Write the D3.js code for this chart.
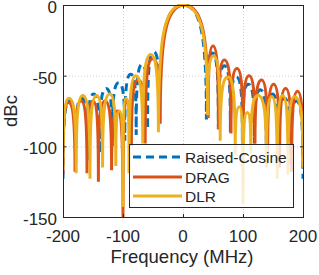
<!DOCTYPE html>
<html>
<head>
<meta charset="utf-8">
<script src="https://cdn.jsdelivr.net/npm/d3@7"></script>
<style>
  html, body { margin: 0; padding: 0; background: #fff; }
  svg { display: block; }
  text { font-family: "Liberation Sans", Arial, Helvetica, sans-serif; fill: #262626; }
</style>
</head>
<body>
<svg id="chart" width="319" height="275"></svg>
<script>
// ---- data ----
const seriesNames = ["Raised-Cosine", "DRAG", "DLR"];
const seriesColors = ["#0072BD", "#D95319", "#EDB120"];
const xTicks = [-200, -100, 0, 100, 200];
const yTicks = [0, -50, -100, -150];

// alternating null / peak points (edge, peak, null, peak, ..., edge)
const rcFreq = [-200, -189, -179, -169, -159, -149, -139, -128, -118, -107, -97, -87, -78, -68, -59, -49, -39, 0,
                 39, 49, 59, 69, 79, 89, 99, 109, 119, 129, 139, 149, 159, 169, 179, 189, 200];
const rcDb   = [-123, -68, -112, -66, -110, -63, -105, -59, -100, -55, -96, -49, -92, -42, -88, -33, -81, 0,
                -81, -34, -88, -43, -90, -51, -96, -56, -98, -60, -110, -63, -110, -66, -112, -68, -123];

const dragFreq = [-200, -191, -180, -170, -160, -150, -141, -130, -119, -109, -100, -93, -86, -75, -63, -51, -38, 2,
                   42, 50, 59, 69, 80, 90, 100, 110, 120, 131, 141, 151, 161, 171, 181, 191, 200];
const dragDb   = [-120, -69, -118, -68, -119, -68, -125, -68, -117, -75, -150, -68, -100, -53, -98, -38, -84, 0,
                  -80, -29, -88, -39, -91, -45, -100, -50, -98, -53, -110, -56, -115, -59, -118, -61, -115];

const dlrFreq = [-200, -190, -178, -167, -155, -144, -134, -122, -112, -106, -100, -95, -90, -79, -67, -54, -41, -1,
                  41, 51, 62, 75, 87, 94, 100, 107, 113, 125, 139, 148, 157, 166, 175, 186, 200];
const dlrDb   = [-115, -66, -119, -64, -123, -64, -115, -63, -114, -75, -143, -66, -119, -50, -98, -35, -90, 0,
                 -78, -36, -96, -51, -106, -72, -141, -76, -105, -64, -115, -65, -123, -64, -120, -65, -115];

const seriesFreq = [rcFreq, dragFreq, dlrFreq];
const seriesDb = [rcDb, dragDb, dlrDb];

// ---- layout ----
const plot = { left: 63, right: 303, top: 5, bottom: 217 };
const svg = d3.select("#chart");

const x = d3.scaleLinear().domain([-200, 200]).range([plot.left, plot.right]);
const y = d3.scaleLinear().domain([-150, 0]).range([plot.bottom, plot.top]);

// grid
const grid = svg.append("g");
grid.selectAll(".gx").data(xTicks).enter().append("line")
  .attr("x1", d => x(d) + 0.5).attr("x2", d => x(d) + 0.5)
  .attr("y1", plot.top).attr("y2", plot.bottom)
  .attr("stroke", "#cfcfcf").attr("stroke-width", 1).attr("stroke-dasharray", "1,2");
grid.selectAll(".gy").data(yTicks).enter().append("line")
  .attr("y1", d => y(d) + 0.5).attr("y2", d => y(d) + 0.5)
  .attr("x1", plot.left).attr("x2", plot.right)
  .attr("stroke", "#cfcfcf").attr("stroke-width", 1).attr("stroke-dasharray", "1,2");

// clip
svg.append("clipPath").attr("id", "clip").append("rect")
  .attr("x", plot.left).attr("y", plot.top - 1)
  .attr("width", plot.right - plot.left).attr("height", plot.bottom - plot.top + 2);

// build lobe path: horizontal tangent at peaks, vertical at nulls
const A = 0.8, B = 0.3;
function lobePath(fr, db) {
  const p = d3.path();
  const pts = fr.map((f, i) => [x(f), y(db[i])]);
  p.moveTo(pts[0][0], pts[0][1]);
  for (let i = 0; i < pts.length - 1; i++) {
    const isPeakNext = (i % 2 === 0); // even index = null, odd = peak
    const [x0, y0] = pts[i], [x1, y1] = pts[i + 1];
    if (isPeakNext) {
      const px = x1, py = y1, nx = x0, ny = y0;
      const dx = nx - px, dy = ny - py;
      p.bezierCurveTo(nx, py + B * dy, px + A * dx, py, px, py);
    } else {
      const px = x0, py = y0, nx = x1, ny = y1;
      const dx = nx - px, dy = ny - py;
      p.bezierCurveTo(px + A * dx, py, nx, py + B * dy, nx, ny);
    }
  }
  return p.toString();
}

const lines = svg.append("g").attr("clip-path", "url(#clip)");
seriesNames.forEach((name, s) => {
  lines.append("path")
    .attr("d", lobePath(seriesFreq[s], seriesDb[s]))
    .attr("fill", "none")
    .attr("stroke", seriesColors[s])
    .attr("stroke-width", 3)
    .attr("stroke-linejoin", "miter")
    .attr("stroke-dasharray", s === 0 ? "8,5" : null);
});

// axes box
const axc = "#262626";
svg.append("rect")
  .attr("x", plot.left + 0.5).attr("y", plot.top + 0.5)
  .attr("width", plot.right - plot.left).attr("height", plot.bottom - plot.top)
  .attr("fill", "none").attr("stroke", axc).attr("stroke-width", 1);

// ticks (inward, all sides)
const tl = 3;
xTicks.forEach(t => {
  svg.append("line").attr("x1", x(t) + 0.5).attr("x2", x(t) + 0.5)
    .attr("y1", plot.bottom + 0.5).attr("y2", plot.bottom - tl).attr("stroke", axc);
  svg.append("line").attr("x1", x(t) + 0.5).attr("x2", x(t) + 0.5)
    .attr("y1", plot.top + 0.5).attr("y2", plot.top + tl + 0.5).attr("stroke", axc);
});
yTicks.forEach(t => {
  svg.append("line").attr("y1", y(t) + 0.5).attr("y2", y(t) + 0.5)
    .attr("x1", plot.left + 0.5).attr("x2", plot.left + tl + 0.5).attr("stroke", axc);
  svg.append("line").attr("y1", y(t) + 0.5).attr("y2", y(t) + 0.5)
    .attr("x1", plot.right + 0.5).attr("x2", plot.right - tl).attr("stroke", axc);
});

// tick labels
svg.selectAll(".xl").data(xTicks).enter().append("text")
  .attr("x", d => x(d)).attr("y", 242)
  .attr("text-anchor", "middle").attr("font-size", 17)
  .text(d => d);
svg.selectAll(".yl").data(yTicks).enter().append("text")
  .attr("x", 57).attr("y", d => y(d) + 2).attr("dy", "0.36em")
  .attr("text-anchor", "end").attr("font-size", 17)
  .text(d => d);

// axis labels
svg.append("text").attr("x", 182).attr("y", 263)
  .attr("text-anchor", "middle").attr("font-size", 18.5)
  .text("Frequency (MHz)");
svg.append("text")
  .attr("transform", "translate(17,111) rotate(-90)")
  .attr("text-anchor", "middle").attr("font-size", 18.5)
  .text("dBc");

// legend
const lg = svg.append("g");
lg.append("rect").attr("x", 129.5).attr("y", 144.5).attr("width", 164).attr("height", 63)
  .attr("fill", "#fff").attr("fill-opacity", 0.78)
  .attr("stroke", axc).attr("stroke-width", 1);
const legY = [157, 177, 196];
seriesNames.forEach((name, s) => {
  lg.append("line").attr("x1", 133).attr("x2", 182)
    .attr("y1", legY[s]).attr("y2", legY[s])
    .attr("stroke", seriesColors[s]).attr("stroke-width", 3)
    .attr("stroke-dasharray", s === 0 ? "8,5" : null);
  lg.append("text").attr("x", 185).attr("y", legY[s]).attr("dy", "0.36em")
    .attr("font-size", 15.5).text(name);
});
</script>
</body>
</html>
